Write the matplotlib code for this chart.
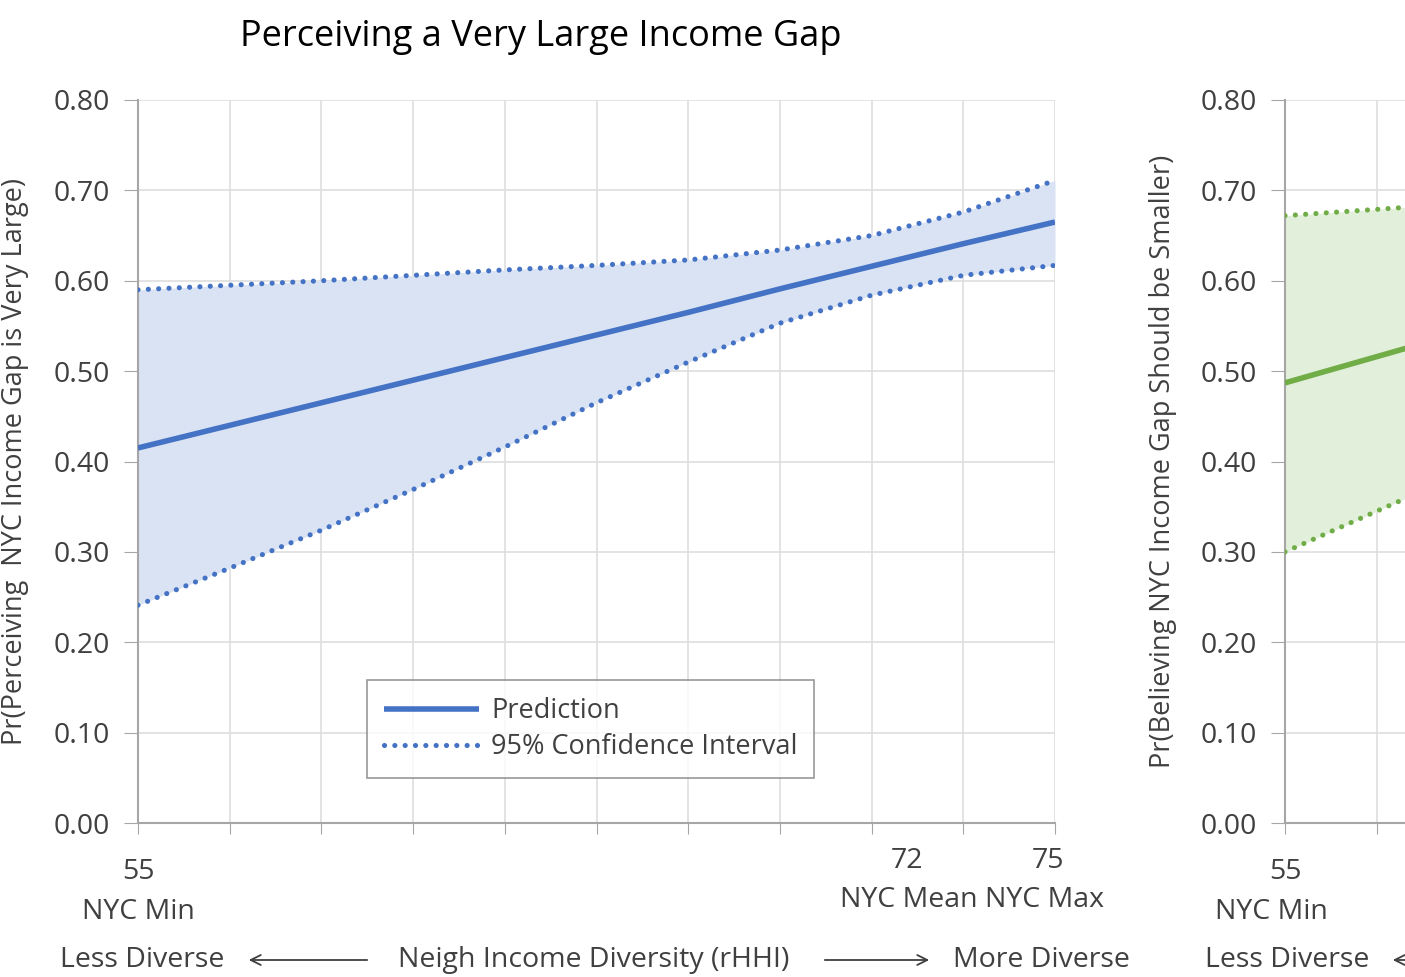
import numpy as np
import matplotlib.pyplot as plt

plt.rcParams['font.family'] = ['Open Sans', 'DejaVu Sans']

# left panel: perceiving a very large income gap
rhhi = [55, 57, 59, 61, 63, 65, 67, 69, 71, 73, 75]
pred_large = [0.415, 0.440, 0.465, 0.490, 0.515, 0.540, 0.565, 0.591, 0.616, 0.641, 0.665]
upper_large = [0.590, 0.595, 0.600, 0.606, 0.612, 0.617, 0.623, 0.634, 0.650, 0.676, 0.711]
lower_large = [0.241, 0.282, 0.324, 0.369, 0.416, 0.465, 0.510, 0.553, 0.584, 0.606, 0.617]

# right panel (cut off): believing gap should be smaller
rhhi_small = [55, 57, 59]
pred_small = [0.487, 0.516, 0.545]
upper_small = [0.672, 0.679, 0.686]
lower_small = [0.300, 0.345, 0.390]

yticks = [0.0, 0.1, 0.2, 0.3, 0.4, 0.5, 0.6, 0.7, 0.8]

blue = '#4472C4'
blue_fill = '#DAE3F3'
green = '#70AD47'
green_fill = '#E2EFDA'
grid_c = '#DEDEDE'
axis_c = '#A6A6A6'
text_c = '#404040'

fig = plt.figure(figsize=(14.05, 9.77), dpi=100)
W, H = 1405, 977
fs = 20.5


def make_axes(x0, y0, x1, y1):
    ax = fig.add_axes([x0 / W, 1 - y1 / H, (x1 - x0) / W, (y1 - y0) / H])
    ax.set_xlim(55, 75)
    ax.set_ylim(0, 0.8)
    ax.set_yticks(yticks)
    ax.set_yticklabels(['%.2f' % v for v in yticks])
    ax.set_xticks(np.arange(55, 76, 2))
    ax.set_xticklabels([])
    ax.grid(True, color=grid_c, lw=1.2)
    ax.set_axisbelow(True)
    for s in ['top', 'right']:
        ax.spines[s].set_visible(False)
    for s in ['left', 'bottom']:
        ax.spines[s].set_color(axis_c)
        ax.spines[s].set_linewidth(1.5)
    ax.tick_params(axis='y', length=10, color=axis_c, labelsize=fs, labelcolor=text_c, pad=10)
    ax.tick_params(axis='x', length=8, color=axis_c)
    return ax


def draw(ax, x, pred, lo, hi, col, fill, label=True):
    ax.fill_between(x, lo, hi, color=fill, lw=0, zorder=1)
    ax.plot(x, pred, color=col, lw=4, solid_capstyle='butt', zorder=3,
            label='Prediction' if label else None)
    ax.plot(x, hi, color=col, lw=3.7, ls=(0, (0.01, 2.0)), dash_capstyle='round', zorder=3,
            label='95% Confidence Interval' if label else None)
    ax.plot(x, lo, color=col, lw=3.7, ls=(0, (0.01, 2.0)), dash_capstyle='round', zorder=3)


ax = make_axes(138, 100, 1055, 823)
draw(ax, rhhi, pred_large, lower_large, upper_large, blue, blue_fill)
ax.set_ylabel('Pr(Perceiving  NYC Income Gap is Very Large)', fontsize=19.5, color=text_c)
ax.yaxis.set_label_coords(-0.119, 0.5)
leg = ax.legend(loc='lower left', bbox_to_anchor=(0.250, 0.062, 0.0, 0.0), fontsize=19.5,
                frameon=True, fancybox=False, edgecolor='#7F7F7F', handlelength=3.5,
                borderpad=0.62, labelspacing=0.3, handletextpad=0.45, borderaxespad=0)
for t in leg.get_texts():
    t.set_color(text_c)
leg.get_frame().set_linewidth(1.2)

xt = ax.get_xaxis_transform()
ax.text(55, -0.068, '55', transform=xt, ha='center', va='center', fontsize=fs, color=text_c)
ax.text(55, -0.123, 'NYC Min', transform=xt, ha='center', va='center', fontsize=fs, color=text_c)
ax.text(71.77, -0.052, '72', transform=xt, ha='center', va='center', fontsize=fs, color=text_c)
ax.text(74.85, -0.052, '75', transform=xt, ha='center', va='center', fontsize=fs, color=text_c)
ax.text(73.2, -0.107, 'NYC Mean NYC Max', transform=xt, ha='center', va='center', fontsize=fs, color=text_c)

ty = 1 - 960 / H
fig.text(60 / W, ty, 'Less Diverse', ha='left', va='center', fontsize=fs, color=text_c)
fig.text(594 / W, ty, 'Neigh Income Diversity (rHHI)', ha='center', va='center', fontsize=fs, color=text_c)
fig.text(1130 / W, ty, 'More Diverse', ha='right', va='center', fontsize=fs, color=text_c)
fig.text(1205 / W, ty, 'Less Diverse', ha='left', va='center', fontsize=fs, color=text_c)
arrow = dict(arrowstyle='->', color='#404040', lw=1.3, mutation_scale=18)
ax.annotate('', xy=(246, 17), xytext=(370, 17), xycoords='figure pixels', textcoords='figure pixels', arrowprops=arrow)
ax.annotate('', xy=(932, 17), xytext=(822, 17), xycoords='figure pixels', textcoords='figure pixels', arrowprops=arrow)
ax.annotate('', xy=(1390, 17), xytext=(1420, 17), xycoords='figure pixels', textcoords='figure pixels', arrowprops=arrow)

fig.text(541 / W, 1 - 37 / H, 'Perceiving a Very Large Income Gap', ha='center', va='center', fontsize=26, color='black')

ax2 = make_axes(1285, 100, 2202, 823)
draw(ax2, rhhi_small, pred_small, lower_small, upper_small, green, green_fill, label=False)
ax2.set_ylabel('Pr(Believing NYC Income Gap Should be Smaller)', fontsize=19.5, color=text_c)
ax2.yaxis.set_label_coords(-0.118, 0.5)
xt2 = ax2.get_xaxis_transform()
ax2.text(55, -0.068, '55', transform=xt2, ha='center', va='center', fontsize=fs, color=text_c)
ax2.text(54.7, -0.123, 'NYC Min', transform=xt2, ha='center', va='center', fontsize=fs, color=text_c)

fig.savefig('out.png', dpi=100)
